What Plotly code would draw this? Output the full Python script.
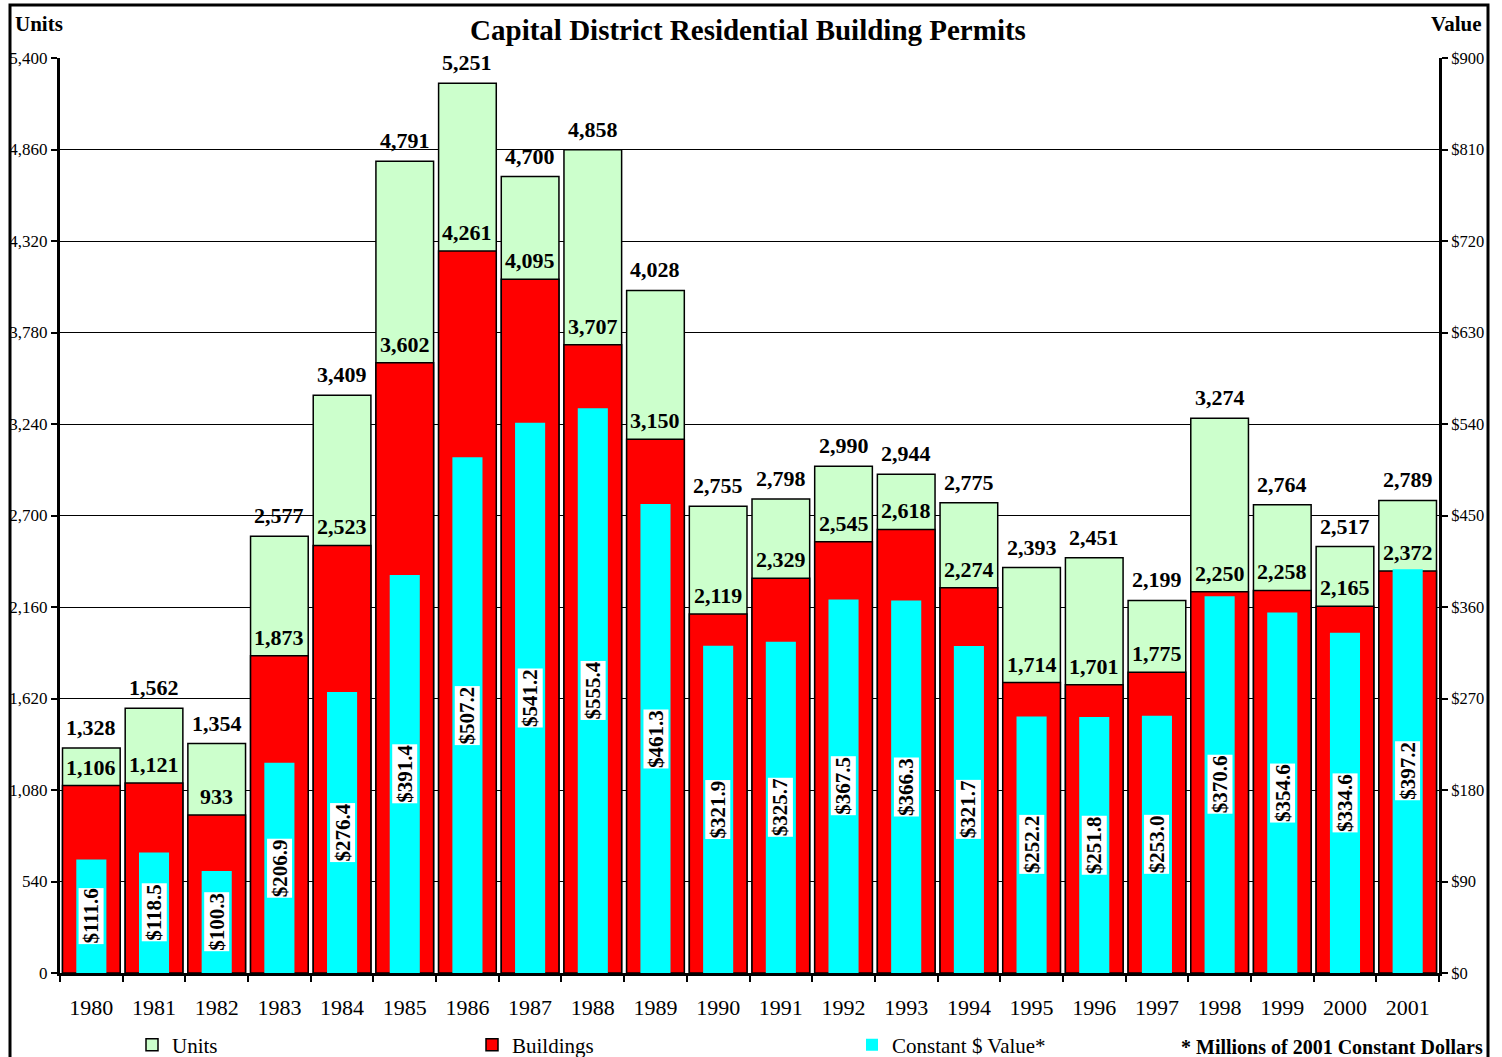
import plotly.graph_objects as go

years = [str(y) for y in range(1980, 2002)]
units = [1328, 1562, 1354, 2577, 3409, 4791, 5251, 4700, 4858, 4028, 2755,
         2798, 2990, 2944, 2775, 2393, 2451, 2199, 3274, 2764, 2517, 2789]
buildings = [1106, 1121, 933, 1873, 2523, 3602, 4261, 4095, 3707, 3150, 2119,
             2329, 2545, 2618, 2274, 1714, 1701, 1775, 2250, 2258, 2165, 2372]
value = [111.6, 118.5, 100.3, 206.9, 276.4, 391.4, 507.2, 541.2, 555.4, 461.3, 321.9,
         325.7, 367.5, 366.3, 321.7, 252.2, 251.8, 253.0, 370.6, 354.6, 334.6, 397.2]
left_ticks = list(range(0, 5401, 540))
right_ticks = list(range(0, 901, 90))

FONT = "Liberation Serif"

fig = go.Figure()
fig.add_trace(go.Bar(x=years, y=units, name="Units", width=0.92,
                     marker=dict(color="#ccffcc", line=dict(color="black", width=1.5)),
                     legend="legend", showlegend=True, hoverinfo="skip"))
fig.add_trace(go.Bar(x=years, y=buildings, name="Buildings", width=0.92,
                     marker=dict(color="#ff0000", line=dict(color="black", width=1.5)),
                     legend="legend2", showlegend=True, hoverinfo="skip"))
fig.add_trace(go.Bar(x=years, y=value, name="Constant $ Value*", width=0.48, yaxis="y2",
                     marker=dict(color="#00ffff", line=dict(width=0)),
                     legend="legend3", showlegend=True, hoverinfo="skip"))

ann = []
for i, (u, b, v) in enumerate(zip(units, buildings, value)):
    ann.append(dict(x=i, y=u, xref="x", yref="y", text=f"<b>{u:,}</b>", showarrow=False,
                    yanchor="bottom", yshift=6, font=dict(family=FONT, size=22, color="black")))
    ann.append(dict(x=i, y=b, xref="x", yref="y", text=f"<b>{b:,}</b>", showarrow=False,
                    yanchor="bottom", yshift=4, font=dict(family=FONT, size=22, color="black")))
    ann.append(dict(x=i, y=v / 2, xref="x", yref="y2", text=f"<b>${v:.1f}</b>", showarrow=False,
                    textangle=-90, bgcolor="white", borderpad=0,
                    font=dict(family=FONT, size=21, color="black")))

L, R, T, B = 60, 1439, 58, 973
W, H = R - L, B - T
def px(x):
    return (x - L) / W
def py(y):
    return (B - y) / H

ann.append(dict(x=px(13), y=py(24), xref="paper", yref="paper", text="<b>Units</b>", showarrow=False,
                xanchor="left", yanchor="middle", font=dict(family=FONT, size=21, color="black")))
ann.append(dict(x=px(1484), y=py(24), xref="paper", yref="paper", text="<b>Value</b>", showarrow=False,
                xanchor="right", yanchor="middle", font=dict(family=FONT, size=21, color="black")))
ann.append(dict(x=px(1485), y=py(1047), xref="paper", yref="paper", text="<b>* Millions of 2001 Constant Dollars</b>",
                showarrow=False, xanchor="right", yanchor="middle",
                font=dict(family=FONT, size=20, color="black")))

legend_common = dict(orientation="h", yanchor="middle", xanchor="left", bgcolor="rgba(0,0,0,0)",
                     font=dict(family=FONT, size=21, color="black"), itemwidth=30)

fig.update_layout(
    width=1502, height=1057,
    margin=dict(l=L, r=1502 - R, t=T, b=1057 - B, autoexpand=False),
    paper_bgcolor="white", plot_bgcolor="white",
    barmode="overlay", bargap=0.08, showlegend=True,
    font=dict(family=FONT, color="black"),
    title=dict(text="<b>Capital District Residential Building Permits</b>", x=px(748), xref="paper",
               y=1 - 30 / 1057, yanchor="middle", xanchor="center",
               font=dict(family=FONT, size=29, color="black")),
    xaxis=dict(type="category", categoryarray=years, tickson="boundaries", ticks="outside",
               ticklen=6, tickwidth=2, tickcolor="black", showline=True, linecolor="black",
               linewidth=3, showgrid=False, tickfont=dict(family=FONT, size=22),
               ticklabelstandoff=13, range=[-0.5, 21.5]),
    yaxis=dict(range=[0, 5400], tickvals=left_ticks, tickformat=",", ticks="outside",
               ticklen=6, tickwidth=2, tickcolor="black", showline=True, linecolor="black",
               linewidth=3, showgrid=True, gridcolor="black", gridwidth=1, zeroline=False,
               tickfont=dict(family=FONT, size=17)),
    yaxis2=dict(range=[0, 900], tickvals=right_ticks, ticktext=[f"${t}" for t in right_ticks],
                overlaying="y", side="right",
                ticks="outside", ticklen=6, tickwidth=2, tickcolor="black", showline=True,
                linecolor="black", linewidth=3, showgrid=False, zeroline=False,
                tickfont=dict(family=FONT, size=16.5)),
    annotations=ann,
    legend=dict(x=px(132), y=py(1045), **legend_common),
    legend2=dict(x=px(472), y=py(1045), **legend_common),
    legend3=dict(x=px(852), y=py(1045), **legend_common),
    shapes=[dict(type="rect", xref="paper", yref="paper", x0=px(10), x1=px(1488), y0=py(1062), y1=py(5),
                 line=dict(color="black", width=3), fillcolor="rgba(0,0,0,0)", layer="above")],
)

fig.write_html("out.html", config={"displayModeBar": False},
               post_script="document.body.style.margin='0';")
